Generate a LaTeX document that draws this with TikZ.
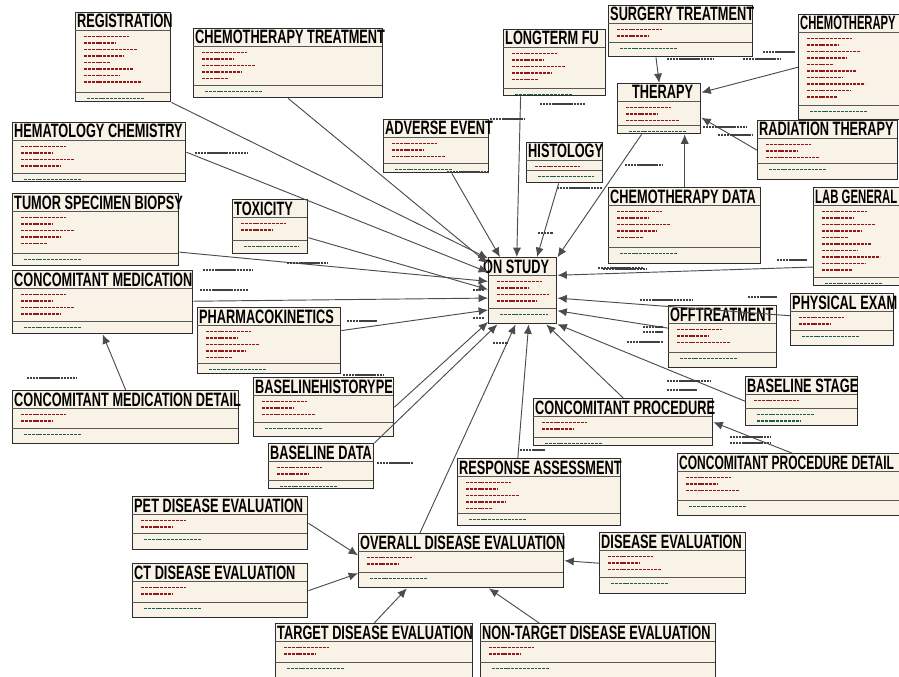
\documentclass[tikz,border=0pt]{standalone}
\usepackage{fontspec}
\newfontfamily\titlefont[FakeStretch=0.66]{Liberation Sans}
\usetikzlibrary{arrows.meta, calc}

\definecolor{tblfill}{RGB}{249,242,231}
\definecolor{tblline}{RGB}{45,45,45}
\definecolor{attred}{RGB}{150,22,22}
\definecolor{attgreen}{RGB}{25,95,75}

\tikzset{
    tbl/.style={rectangle, draw=tblline, fill=tblfill, line width=1.2pt, inner sep=0pt, anchor=north west},
    ttl/.style={inner sep=0pt, anchor=base west, font=\titlefont\bfseries\fontsize{16.5}{16.5}\selectfont},
    band/.style={draw=tblline!80, line width=0.8pt},
    pkrow/.style={attred, line width=1.4pt, dash pattern=on 2.5pt off 0.8pt},
    fkrow/.style={attgreen, line width=1.3pt, dash pattern=on 2.5pt off 0.8pt},
    fk/.style={-{Latex[length=8pt, width=7pt]}, draw=black!70, line width=0.8pt},
    fklbl/.style={black!75, line width=0.9pt, dash pattern=on 2pt off 0.6pt}
}

% table: name, x, y, width, height, title, offset of key separator
\newcommand{\ertable}[7]{%
    \node[tbl, minimum width=#4*0.03cm, minimum height=#5*0.03cm] (#1) at (#2,#3) {};
    \node[ttl] (#1-t) at (#2+2,#3+16) {#6};
    \draw[band] (#2,#3+18.5) -- (#2+#4,#3+18.5);
    \draw[band] (#2,#3+#7) -- (#2+#4,#3+#7);
    \pgfmathtruncatemacro\nred{max(1,(#7-22)/6.5)}
    \pgfmathtruncatemacro\ngreen{max(1,(#5-#7-3)/7)}
    \foreach \i in {1,...,\nred}
        \draw[pkrow] (#2+9,#3+18+\i*6.5) -- ++({min(#4-16,22+mod(\i*23,37))},0);
    \foreach \i in {1,...,\ngreen}
        \draw[fkrow] (#2+12,#3+#7+\i*6.5) -- ++({min(#4-20,40+mod(\i*17,30))},0);
}

\begin{document}
\begin{tikzpicture}[x=0.03cm, y=-0.03cm]
\useasboundingbox (0,0) rectangle (899,677);

% Left column
\ertable{reg}{75}{12}{95}{89}{REGISTRATION}{80}
\ertable{chemotx}{193}{28}{189}{69}{CHEMOTHERAPY TREATMENT}{57}
\ertable{hema}{12}{122}{173}{59}{HEMATOLOGY CHEMISTRY}{51}
\ertable{tumor}{12}{193}{166}{72}{TUMOR SPECIMEN BIOPSY}{60}
\ertable{tox}{232}{199}{75}{54}{TOXICITY}{41}
\ertable{cmed}{12}{270}{180}{63}{CONCOMITANT MEDICATION}{51}
\ertable{pharma}{197}{307}{143}{66}{PHARMACOKINETICS}{56}
\ertable{cmdetail}{12}{390}{226}{53}{CONCOMITANT MEDICATION DETAIL}{38}
\ertable{bhist}{253}{377}{140}{59}{BASELINEHISTORYPE}{45}
\ertable{bdata}{268}{443}{105}{45}{BASELINE DATA}{37}

% Disease evaluation group
\ertable{pet}{132}{496}{175}{53}{PET DISEASE EVALUATION}{37}
\ertable{ct}{132}{563}{175}{54}{CT DISEASE EVALUATION}{39}
\ertable{overall}{358}{533}{205}{54}{OVERALL DISEASE EVALUATION}{39}
\ertable{deval}{599}{532}{146}{61}{DISEASE EVALUATION}{45}
\ertable{target}{275}{623}{197}{54}{TARGET DISEASE EVALUATION}{39}
\ertable{nontarget}{480}{623}{235}{54}{NON-TARGET DISEASE EVALUATION}{39}

% Centre
\ertable{onstudy}{488}{257}{68}{66}{\hspace*{-6pt}ON STUDY}{51}
\ertable{longterm}{503}{29}{102}{66}{LONGTERM FU}{59}
\ertable{adverse}{383}{119}{105}{53}{ADVERSE EVENT}{44}
\ertable{histo}{526}{142}{76}{40}{HISTOLOGY}{28}
\ertable{resp}{457}{458}{163}{67}{RESPONSE ASSESSMENT}{55}

% Therapy group
\ertable{surgery}{608}{5}{144}{51}{SURGERY TREATMENT}{37}
\ertable{chemo}{798}{14}{107}{105}{\scalebox{0.88}[1]{CHEMOTHERAPY}}{91}
\ertable{therapy}{617}{83}{83}{50}{\hspace*{11pt}THERAPY}{42}
\ertable{rad}{757}{120}{140}{59}{RADIATION THERAPY}{43}
\ertable{chemodata}{608}{187}{152}{76}{CHEMOTHERAPY DATA}{60}

% Right column
\ertable{lab}{813}{187}{92}{98}{\scalebox{0.89}[1]{LAB GENERAL}}{90}
\ertable{phys}{790}{293}{103}{52}{PHYSICAL EXAM}{37}
\ertable{off}{668}{305}{108}{62}{OFFTREATMENT}{47}
\ertable{bstage}{745}{376}{112}{49}{BASELINE STAGE}{32}
\ertable{cproc}{533}{398}{179}{47}{CONCOMITANT PROCEDURE}{39}
\ertable{cpdetail}{677}{453}{228}{62}{\scalebox{0.94}[1]{CONCOMITANT PROCEDURE DETAIL}}{47}

% Foreign keys into ON STUDY
\draw[fk] (reg.south east) -- (onstudy.137);
\draw[fk] (chemotx.south) -- (onstudy.142);
\draw[fk] (hema.east) -- (onstudy.152);
\draw[fk] (tumor.-15) -- (onstudy.165);
\draw[fk] (tox) -- (onstudy.178);
\draw[fk] (cmed) -- (onstudy.192);
\draw[fk] (pharma) -- (onstudy.209);
\draw[fk] (adverse) -- (onstudy.124);
\draw[fk] ($(longterm.south west)!0.17!(longterm.south east)$) -- (onstudy.100);
\draw[fk] (histo) -- (onstudy.67);
\draw[fk] (therapy) -- (onstudy.44);
\draw[fk] (lab.213) -- (onstudy.24);
\draw[fk] (phys) -- (onstudy.348);
\draw[fk] (off) -- (onstudy.330);
\draw[fk] (bstage.west) -- (onstudy.316);
\draw[fk] (cproc.north) -- (onstudy.305);
\draw[fk] ($(resp.north west)!0.37!(resp.north east)$) -- (onstudy.280);
\draw[fk] ($(overall.north west)!0.3!(overall.north east)$) -- (onstudy.258);
\draw[fk] (bdata.north east) -- (onstudy.233);
\draw[fk] (bhist.east) -- (onstudy.222);

% Other foreign keys
\draw[fk] (cmdetail.north) -- (cmed.south);
\draw[fk] ($(surgery.south west)!0.33!(surgery.south east)$) -- (therapy.north);
\draw[fk] (chemo.west) -- (therapy.21);
\draw[fk] (rad.west) -- (therapy.-12);
\draw[fk] (chemodata.north) -- (chemodata.north |- therapy.south);
\draw[fk] (cpdetail.north) -- (cproc.east);
\draw[fk] (pet.east) -- (overall.177);
\draw[fk] (ct.east) -- (overall.187);
\draw[fk] (target.north) -- (overall.207);
\draw[fk] ($(nontarget.north west)!0.25!(nontarget.north east)$) -- (overall.315);
\draw[fk] (deval.west) -- (overall.east);

% Key name tags along the connectors
\foreach \lx/\ly/\ll in {195/153/52, 203/270/50, 200/290/48, 287/263/40, 347/321/30,
    343/375/40, 490/119/35, 540/104/45, 447/172/40, 557/188/45, 667/59/46, 743/59/37,
    763/52/32, 703/127/44, 718/135/35, 625/165/37, 777/260/30, 603/269/44, 640/300/53,
    748/297/29, 627/342/36, 643/327/20, 643/332/20, 667/381/43, 667/390/30, 730/437/40,
    730/443/40, 377/463/36, 520/450/25, 27/378/50, 538/233/15, 598/268/45, 473/290/12,
    473/318/12, 493/343/15}
    \draw[fklbl] (\lx,\ly) -- ++(\ll,0);
\end{tikzpicture}
\end{document}
